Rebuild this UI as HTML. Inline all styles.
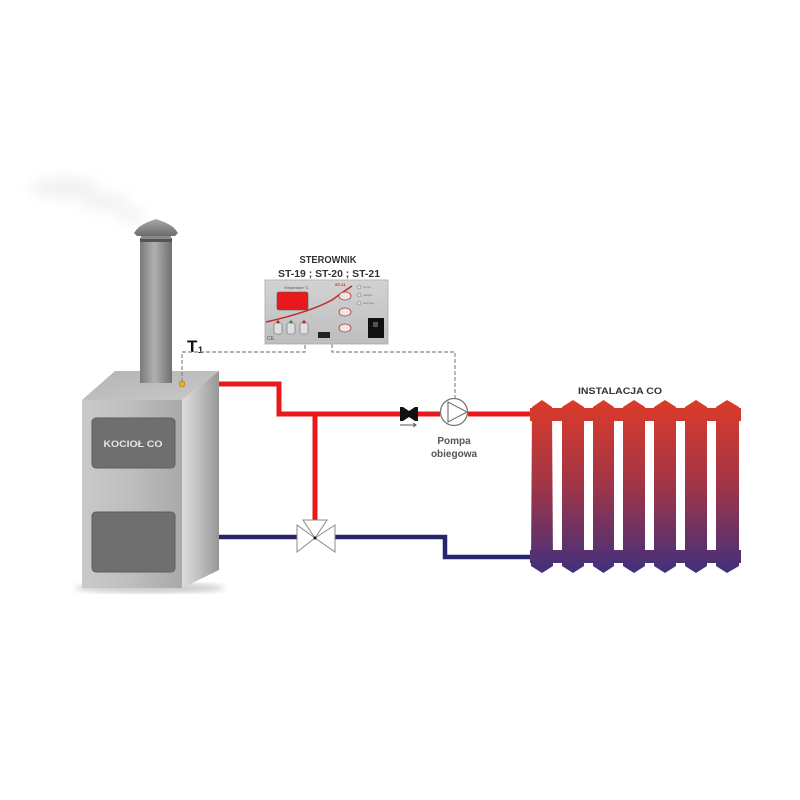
<!DOCTYPE html>
<html><head><meta charset="utf-8"><style>html,body{margin:0;padding:0;background:#fff}svg{display:block}</style></head>
<body>
<svg width="800" height="800" viewBox="0 0 800 800" xmlns="http://www.w3.org/2000/svg" font-family="Liberation Sans, Arial, sans-serif">
<defs>
<linearGradient id="front" x1="0" x2="1" y1="0" y2="0"><stop offset="0" stop-color="#c9c9c9"/><stop offset="0.5" stop-color="#bdbdbd"/><stop offset="1" stop-color="#a9a9a9"/></linearGradient>
<linearGradient id="side" x1="0" x2="1" y1="0" y2="0"><stop offset="0" stop-color="#dcdcdc"/><stop offset="0.4" stop-color="#c4c4c4"/><stop offset="1" stop-color="#969696"/></linearGradient>
<linearGradient id="top" x1="0" x2="1" y1="0" y2="1"><stop offset="0" stop-color="#b4b4b4"/><stop offset="1" stop-color="#c8c8c8"/></linearGradient>
<linearGradient id="chim" x1="0" x2="1"><stop offset="0" stop-color="#7a7a7a"/><stop offset="0.45" stop-color="#b0b0b0"/><stop offset="1" stop-color="#707070"/></linearGradient>
<linearGradient id="cap" x1="0" x2="0" y1="0" y2="1"><stop offset="0" stop-color="#a8a8a8"/><stop offset="1" stop-color="#6c6c6c"/></linearGradient>
<linearGradient id="rad" x1="0" x2="0" y1="400" y2="572" gradientUnits="userSpaceOnUse"><stop offset="0" stop-color="#dc3b28"/><stop offset="0.5" stop-color="#a03548"/><stop offset="1" stop-color="#42307c"/></linearGradient>
<linearGradient id="panel" x1="0" x2="0" y1="0" y2="1"><stop offset="0" stop-color="#d2d2d2"/><stop offset="1" stop-color="#bebebe"/></linearGradient>
<filter id="blur" x="-50%" y="-50%" width="200%" height="200%"><feGaussianBlur stdDeviation="7"/></filter>
<filter id="sh"><feGaussianBlur stdDeviation="3"/></filter>
</defs>

<!-- smoke -->
<g filter="url(#blur)" opacity="0.18" fill="#aaa">
<ellipse cx="65" cy="188" rx="35" ry="9"/>
<ellipse cx="105" cy="202" rx="25" ry="7"/>
<ellipse cx="130" cy="216" rx="15" ry="5"/>
</g>

<!-- boiler shadow -->
<ellipse cx="150" cy="588" rx="75" ry="5" fill="#999" opacity="0.5" filter="url(#sh)"/>

<!-- boiler -->
<polygon points="115,371 219,371 182,400 82,400" fill="url(#top)"/>
<polygon points="182,400 219,371 219,570 182,588" fill="url(#side)"/>
<rect x="82" y="400" width="100" height="188" fill="url(#front)"/>
<rect x="92" y="418" width="83" height="50" rx="4" fill="#6f6f6f" stroke="#5e5e5e"/>
<rect x="92" y="512" width="83" height="60" rx="4" fill="#6f6f6f" stroke="#5e5e5e"/>
<text x="133" y="447" font-size="9" font-weight="bold" fill="#e6e6e6" text-anchor="middle" textLength="59" lengthAdjust="spacingAndGlyphs">KOCIOŁ CO</text>

<!-- chimney -->
<rect x="140" y="239" width="32" height="144" fill="url(#chim)"/>
<rect x="140" y="238" width="32" height="4" fill="#555"/>
<path d="M134,233 Q138,226 148,222 L156,219 L164,222 Q174,226 178,233 L175,236 L137,236 Z" fill="url(#cap)"/>
<rect x="141" y="236" width="30" height="3" fill="#888"/>

<!-- sensor -->
<circle cx="182" cy="384" r="2.8" fill="#f0b020" stroke="#b07a10" stroke-width="0.6"/>
<text x="187" y="352" font-size="17" font-weight="bold" fill="#111">T</text>
<text x="198" y="353" font-size="9" font-weight="bold" fill="#111">1</text>

<!-- dashed wires -->
<g fill="none" stroke="#888" stroke-width="1.2" stroke-dasharray="4,2">
<polyline points="182,382 182,352 305,352 305,344"/>
<polyline points="332,344 332,352 455,352 455,398"/>
</g>

<!-- controller -->
<text x="328" y="263" font-size="10" font-weight="bold" fill="#333" text-anchor="middle" textLength="57" lengthAdjust="spacingAndGlyphs">STEROWNIK</text>
<text x="329" y="277" font-size="10" font-weight="bold" fill="#333" text-anchor="middle" textLength="102" lengthAdjust="spacingAndGlyphs">ST-19 ; ST-20 ; ST-21</text>
<rect x="265" y="280" width="123" height="64" fill="url(#panel)" stroke="#aaa" stroke-width="0.8"/>
<text x="284" y="289" font-size="3.5" fill="#555">Temperature °C</text>
<rect x="277" y="292" width="31" height="18" rx="2" fill="#e8191c" stroke="#555" stroke-width="0.6"/>
<path d="M266,322 Q310,312 332,300 Q343,292 352,286" fill="none" stroke="#c0282a" stroke-width="1.5"/>
<text x="335" y="286" font-size="4" font-weight="bold" fill="#d02020">ST-21</text>
<g fill="#e8e8e8" stroke="#c03030" stroke-width="0.8">
<ellipse cx="345" cy="296" rx="6" ry="4"/>
<ellipse cx="345" cy="312" rx="6" ry="4"/>
<ellipse cx="345" cy="328" rx="6" ry="4"/>
</g>
<g fill="#ddd" stroke="#777" stroke-width="0.5">
<circle cx="359" cy="287" r="2"/>
<circle cx="359" cy="295" r="2"/>
<circle cx="359" cy="303" r="2"/>
</g>
<g fill="#777" font-size="2.5"><text x="363" y="288">pompa</text><text x="363" y="296">podajnik</text><text x="363" y="304">wentylator</text></g>
<rect x="368" y="318" width="16" height="20" fill="#111"/>
<rect x="373" y="322" width="5" height="5" fill="#555"/>
<g fill="#e0e0e0" stroke="#666" stroke-width="0.6">
<rect x="274" y="323" width="8" height="11" rx="2"/>
<rect x="287" y="323" width="8" height="11" rx="2"/>
<rect x="300" y="323" width="8" height="11" rx="2"/>
</g>
<circle cx="278" cy="322" r="1.5" fill="#c02020"/><circle cx="291" cy="322" r="1.5" fill="#3a8a3a"/><circle cx="304" cy="322" r="1.5" fill="#c02020"/>
<rect x="318" y="332" width="12" height="6" fill="#222"/>
<text x="267" y="340" font-size="5" fill="#555">CE</text>

<!-- red pipes -->
<g fill="none" stroke="#e8191c" stroke-width="5" stroke-linejoin="miter">
<polyline points="219,384 279,384 279,414 440,414"/>
<line x1="468" y1="414" x2="532" y2="414"/>
<line x1="315" y1="414" x2="315" y2="521"/>
</g>

<!-- blue pipes -->
<g fill="none" stroke="#27266a" stroke-width="4.5">
<line x1="219" y1="537" x2="297" y2="537"/>
<polyline points="335,537 445,537 445,557 532,557"/>
</g>

<!-- 3-way valve -->
<g fill="#fff" stroke="#888" stroke-width="1">
<polygon points="297,525 315,538 297,552"/>
<polygon points="335,525 315,538 335,552"/>
<polygon points="303,520 327,520 315,538"/>
</g>
<circle cx="315" cy="538" r="1.5" fill="#111"/>

<!-- check valve -->
<polygon points="400,407 403,407 409,411 415,407 418,407 418,421 415,421 409,417 403,421 400,421" fill="#111"/>
<line x1="400" y1="425" x2="416" y2="425" stroke="#555" stroke-width="1"/>
<polyline points="413,423 416,425 413,427" fill="none" stroke="#555" stroke-width="1"/>

<!-- pump -->
<circle cx="454" cy="412" r="13.5" fill="#fff" stroke="#777" stroke-width="1.3"/>
<polygon points="448,402 467,412 448,422" fill="none" stroke="#777" stroke-width="1.2"/>
<text x="454" y="444" font-size="10" font-weight="bold" fill="#555" text-anchor="middle">Pompa</text>
<text x="454" y="457" font-size="10" font-weight="bold" fill="#555" text-anchor="middle">obiegowa</text>

<!-- radiator -->
<text x="620" y="394" font-size="9" font-weight="bold" fill="#333" text-anchor="middle" textLength="84" lengthAdjust="spacingAndGlyphs">INSTALACJA CO</text>
<g fill="url(#rad)">
<rect x="530" y="408" width="211" height="13"/>
<rect x="530" y="550" width="211" height="13"/>
<path d="M532,407 L542,400 L552,407 L553,566 L542,573 L531,566 Z"/>
<path d="M562,407 L573,400 L584,407 L584,566 L573,573 L562,566 Z"/>
<path d="M593,407 L603.5,400 L614,407 L614,566 L603.5,573 L593,566 Z"/>
<path d="M623,407 L634,400 L645,407 L645,566 L634,573 L623,566 Z"/>
<path d="M654,407 L665,400 L676,407 L676,566 L665,573 L654,566 Z"/>
<path d="M685,407 L696,400 L707,407 L707,566 L696,573 L685,566 Z"/>
<path d="M716,407 L727,400 L739,407 L739,566 L727,573 L716,566 Z"/>
</g>
</svg>
</body></html>
